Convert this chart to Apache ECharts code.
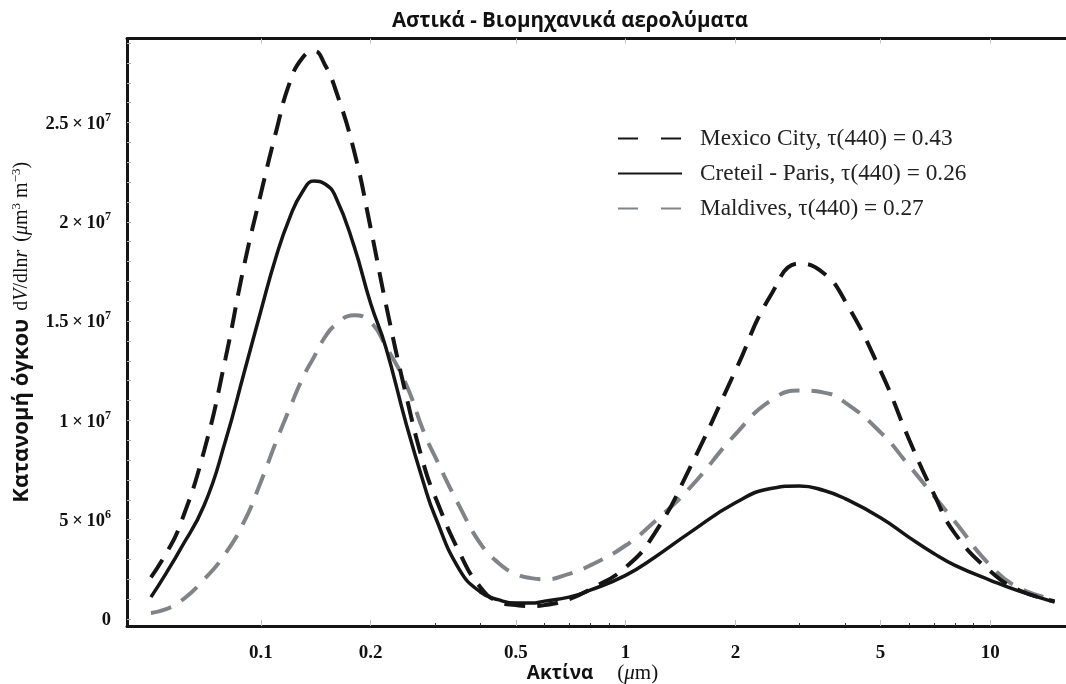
<!DOCTYPE html>
<html><head><meta charset="utf-8">
<script src="https://cdn.jsdelivr.net/npm/echarts@6/dist/echarts.min.js"></script>
<style>html,body{margin:0;padding:0;background:#fff}#c{width:1066px;height:684px}</style>
</head><body><div id="c"></div>
<script>
// Radius (μm)
const radius = [0.05,0.055,0.06,0.07,0.08,0.09,0.1,0.11,0.12,0.13,0.14,0.15,0.16,0.18,0.2,0.22,0.25,0.28,0.3,0.35,0.4,0.45,0.5,0.55,0.6,0.7,0.8,1,1.2,1.5,2,2.5,3,3.5,4,5,6,7,8,10,12,15];
// dV/dlnr values, in units of 10^6 μm³ m⁻³
const mexicoCity = [2.1,3.3,4.7,8.5,13.1,17.8,21.4,24.5,27.0,28.25,28.6,27.9,26.7,23.6,19.7,15.9,11.3,7.75,6.2,3.37,1.6,0.86,0.70,0.65,0.70,1.0,1.5,2.6,4.3,7.6,12.5,16.3,17.9,17.4,16.0,12.5,9.0,6.3,4.3,2.4,1.45,0.9];
const creteilParis = [1.1,2.3,3.47,5.74,8.96,12.4,15.5,18.2,20.2,21.5,22.05,21.9,21.3,18.8,15.9,13.7,9.87,6.8,5.2,2.5,1.36,0.96,0.8,0.8,0.9,1.1,1.45,2.2,3.1,4.35,5.85,6.57,6.7,6.47,6.06,5.1,4.1,3.3,2.7,1.95,1.4,0.85];
const maldives = [0.3,0.5,0.86,2.0,3.3,4.9,6.9,8.9,10.6,12.1,13.2,14.2,14.8,15.3,14.95,13.75,11.83,9.4,8.2,5.7,3.8,2.8,2.27,2.06,2.0,2.27,2.7,3.7,4.9,6.6,9.3,11.0,11.5,11.4,10.9,9.4,7.7,6.2,4.9,2.7,1.56,1.0];
const seriesNames = ['Mexico City, τ(440) = 0.43','Creteil - Paris, τ(440) = 0.26','Maldives, τ(440) = 0.27'];

// Axis ticks
const xTickValues = [0.1,0.2,0.5,1,2,5,10];
const xTickLabels = ['0.1','0.2','0.5','1','2','5','10'];
const xMinorTickValues = [0.3,0.4,0.6,0.7,0.8,0.9,3,4,6,7,8,9];
const xRange = [0.04298, 16.12];
const yTickValues = [0,5e6,1e7,1.5e7,2e7,2.5e7];
const yTickMantissa = ['0','5','1','1.5','2','2.5'];
const yTickExponent = ['','6','7','7','7','7'];
const yMinorStep = 1e6, yMinorCount = 30;
const yRange = [-0.352e6, 29.23e6];

const lg = Math.log10;
const toData = vals => radius.map((r,i)=>[lg(r), vals[i]*1e6]);
const yMinor = Array.from({length:yMinorCount},(_,i)=>i*yMinorStep);

const BLACK = '#151515', GRAY = '#808489';
const serif = 'Liberation Serif', sans = 'Open Sans';

const chart = echarts.init(document.getElementById('c'), null, {renderer:'canvas'});
const xBase = {type:'value', min: lg(xRange[0]), max: lg(xRange[1]), splitLine:{show:false}};
chart.setOption({
  animation:false,
  backgroundColor:'#fff',
  title:{text:'Αστικά - Βιομηχανικά αερολύματα', left:565, top:6, textAlign:'center',
    textStyle:{fontFamily:sans, fontWeight:'bold', fontSize:20.5, color:'#111'}},
  grid:{left:127, right:0, top:38.5, bottom:58, containLabel:false, outerBoundsMode:'none'},
  legend:{orient:'vertical', left:617, top:127, padding:0, itemWidth:64, itemHeight:20, itemGap:12,
    itemStyle:{opacity:0},
    textStyle:{fontFamily:serif, fontSize:23.3, color:'#222', padding:[0,0,0,13], lineHeight:22},
    data:[
      {name:seriesNames[0], lineStyle:{type:[20,23]}},
      {name:seriesNames[1]},
      {name:seriesNames[2], lineStyle:{type:[20,23]}}
    ]},
  xAxis:[
    Object.assign({}, xBase, {position:'bottom',
      name:'{b|Ακτίνα}{g|}{s|(}{i|μ}{s|m)}{q|}', nameLocation:'middle', nameGap:37, nameMoveOverlap:false,
      nameTextStyle:{rich:{
        b:{fontFamily:sans, fontWeight:'bold', fontSize:19, color:'#111'},
        g:{width:24},
        q:{width:8},
        s:{fontFamily:serif, fontSize:21, color:'#111'},
        i:{fontFamily:serif, fontStyle:'italic', fontSize:21, color:'#111'}
      }},
      axisLine:{onZero:false, lineStyle:{color:BLACK, width:3}},
      axisTick:{inside:true, length:6, customValues:xTickValues.map(lg), lineStyle:{color:'#bdbdbd', width:1}},
      axisLabel:{customValues:xTickValues.map(lg), margin:18,
        fontFamily:serif, fontWeight:'bold', fontSize:19, color:'#111',
        formatter:v=>{const i=xTickValues.findIndex(t=>Math.abs(lg(t)-v)<1e-6); return i<0?'':xTickLabels[i];}}
    }),
    Object.assign({}, xBase, {position:'bottom', axisLine:{show:false, onZero:false},
      axisTick:{inside:true, length:3, customValues:xMinorTickValues.map(lg), lineStyle:{color:'#333', width:1}},
      axisLabel:{show:false}}),
    Object.assign({}, xBase, {position:'top', axisLine:{onZero:false, lineStyle:{color:BLACK, width:3}},
      axisTick:{inside:true, length:5, customValues:xTickValues.map(lg), lineStyle:{color:'#c4c4c4', width:1}},
      axisLabel:{show:false}})
  ],
  yAxis:{type:'value', min:yRange[0], max:yRange[1], splitLine:{show:false},
    name:'{b|Κατανομή όγκου}{g|}{s|d}{i|V}{s|/dln}{i|r}{g|}{s|(}{i|μ}{s|m}{p|3}{s| m}{p|−3}{s|)}',
    nameLocation:'middle', nameRotate:90, nameGap:93,
    nameTextStyle:{rich:{
      b:{fontFamily:sans, fontWeight:'bold', fontSize:22, color:'#111', lineHeight:24},
      g:{width:8},
      s:{fontFamily:serif, fontSize:20, color:'#111', lineHeight:24},
      i:{fontFamily:serif, fontStyle:'italic', fontSize:20, color:'#111', lineHeight:24},
      p:{fontFamily:serif, fontSize:13, color:'#111', verticalAlign:'top', lineHeight:14}
    }},
    axisLine:{show:true, onZero:false, lineStyle:{color:BLACK, width:3}},
    axisTick:{show:true, inside:true, length:4, customValues:yMinor, lineStyle:{color:'#b5b5b5', width:1}},
    axisLabel:{customValues:yTickValues, margin:16,
      formatter:v=>{const i=yTickValues.findIndex(t=>Math.abs(t-v)<1);
        if(i<0) return ''; if(!yTickExponent[i]) return '{m|'+yTickMantissa[i]+'}';
        return '{m|'+yTickMantissa[i]+'\u2009×\u200910}{e|'+yTickExponent[i]+'}';},
      rich:{
        m:{fontFamily:serif, fontWeight:'bold', fontSize:18.5, color:'#111', lineHeight:22, verticalAlign:'bottom'},
        e:{fontFamily:serif, fontWeight:'bold', fontSize:12, color:'#111', lineHeight:14, verticalAlign:'top'}
      }}
  },
  series:[
    {name:seriesNames[0], type:'line', xAxisIndex:0, data:toData(mexicoCity), smooth:true, symbol:'none',
      lineStyle:{color:BLACK, width:4, type:[21,12]}, itemStyle:{color:BLACK}, z:3},
    {name:seriesNames[1], type:'line', xAxisIndex:0, data:toData(creteilParis), smooth:true, symbol:'none',
      lineStyle:{color:BLACK, width:3.5, type:'solid'}, itemStyle:{color:BLACK}, z:4},
    {name:seriesNames[2], type:'line', xAxisIndex:0, data:toData(maldives), smooth:true, symbol:'none',
      lineStyle:{color:GRAY, width:4, type:[21,12]}, itemStyle:{color:GRAY}, z:2}
  ]
});
</script></body></html>
